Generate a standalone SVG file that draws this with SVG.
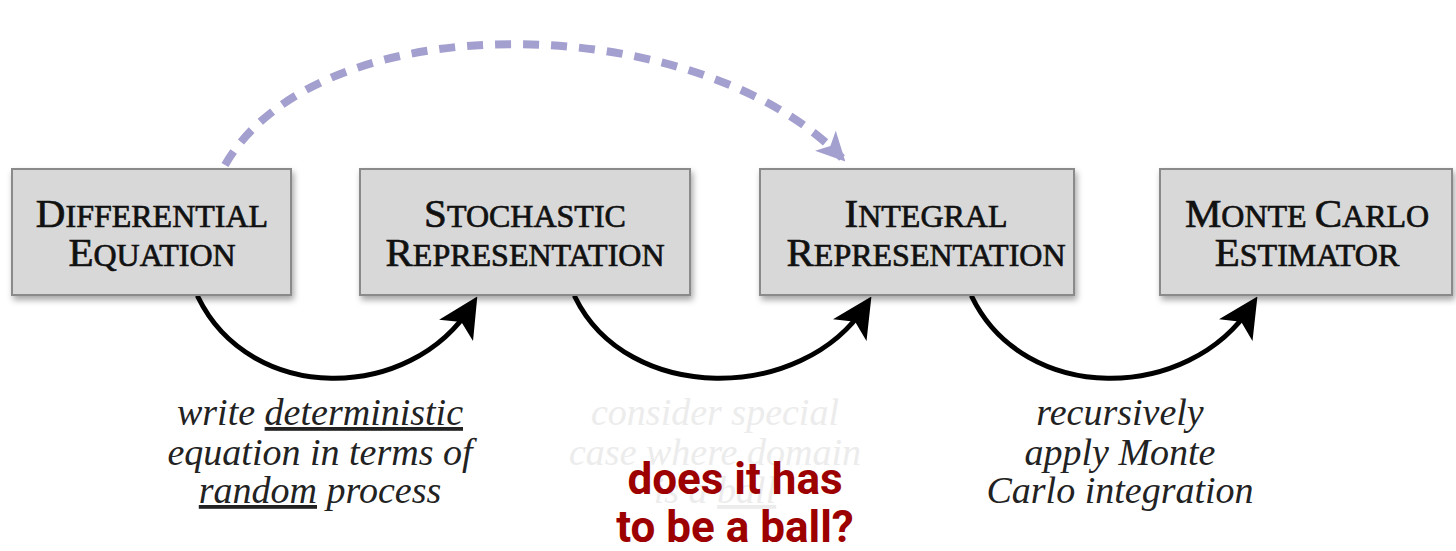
<svg xmlns="http://www.w3.org/2000/svg" width="1456" height="551" viewBox="0 0 1456 551">
<defs>
<filter id="sh" x="-10%" y="-10%" width="125%" height="130%">
<feDropShadow dx="2" dy="4" stdDeviation="3" flood-color="#000" flood-opacity="0.35"/>
</filter>
<marker id="ah" markerWidth="8" markerHeight="8" refX="6" refY="4" orient="auto" markerUnits="strokeWidth" viewBox="0 0 8 8">
<path d="M0,0 L8,4 L0,8 L2,4 Z" fill="#000"/>
</marker>
<marker id="ahd" markerWidth="3.6" markerHeight="3.6" refX="5" refY="3" orient="auto" markerUnits="strokeWidth" viewBox="0 0 6 6">
<path d="M0,0 L6,3 L0,6 L1.5,3 Z" fill="#a39fcf"/>
</marker>
</defs>
<style>
.box{fill:#d8d8d8;stroke:#8a8a8a;stroke-width:2;filter:url(#sh)}
.t{font-family:"Liberation Serif","DejaVu Serif",serif;fill:#111;stroke:#111;stroke-width:0.7;text-anchor:middle}
.b{font-size:41px}
.s{font-size:32px}
.lab{font-family:"Liberation Serif","DejaVu Serif",serif;font-style:italic;font-size:38px;fill:#222;text-anchor:middle}
.fade{fill:#ececec}
.red{font-family:Roboto,"Liberation Sans",sans-serif;font-weight:bold;font-size:44px;fill:#9c0000;text-anchor:middle}
.arc{fill:none;stroke:#000;stroke-width:5;stroke-linecap:round}
</style>
<rect width="1456" height="551" fill="#fff"/>
<g id="connectors">
<path class="arc" d="M198,297 C250,404 410,404 472,305" marker-end="url(#ah)"/>
<path class="arc" d="M575,297 C627,404 802,404 866,305" marker-end="url(#ah)"/>
<path class="arc" d="M972,297 C1024,404 1188,404 1252,305" marker-end="url(#ah)"/>
<path d="M225,165 C320,0 700,10 842,158" fill="none" stroke="#a39fcf" stroke-width="8" stroke-dasharray="16 12" marker-end="url(#ahd)"/>
</g>
<g id="n1">
<rect class="box" x="12" y="169" width="279" height="126"/>
<text class="t" x="152" y="227"><tspan class="b">D</tspan><tspan class="s">IFFERENTIAL</tspan></text>
<text class="t" x="152" y="266"><tspan class="b">E</tspan><tspan class="s">QUATION</tspan></text>
</g>
<g id="n2">
<rect class="box" x="360" y="169" width="330" height="126"/>
<text class="t" x="525" y="227"><tspan class="b">S</tspan><tspan class="s">TOCHASTIC</tspan></text>
<text class="t" x="525" y="266"><tspan class="b">R</tspan><tspan class="s">EPRESENTATION</tspan></text>
</g>
<g id="n3">
<rect class="box" x="760" y="169" width="314" height="126"/>
<text class="t" x="926" y="227"><tspan class="b">I</tspan><tspan class="s">NTEGRAL</tspan></text>
<text class="t" x="926" y="266"><tspan class="b">R</tspan><tspan class="s">EPRESENTATION</tspan></text>
</g>
<g id="n4">
<rect class="box" x="1160" y="169" width="292" height="126"/>
<text class="t" x="1307" y="227"><tspan class="b">M</tspan><tspan class="s">ONTE </tspan><tspan class="b">C</tspan><tspan class="s">ARLO</tspan></text>
<text class="t" x="1307" y="266"><tspan class="b">E</tspan><tspan class="s">STIMATOR</tspan></text>
</g>
<g id="label1">
<text class="lab" x="320" y="425">write <tspan text-decoration="underline">deterministic</tspan></text>
<text class="lab" x="320" y="465">equation in terms of</text>
<text class="lab" x="320" y="503"><tspan text-decoration="underline">random</tspan> process</text>
</g>
<g id="label2">
<text class="lab fade" x="715" y="425">consider special</text>
<text class="lab fade" x="715" y="465">case where domain</text>
<text class="lab fade" x="715" y="503">is a <tspan text-decoration="underline">ball</tspan></text>
<text class="red" x="735" y="494">does it has</text>
<text class="red" x="735" y="542">to be a ball?</text>
</g>
<g id="label3">
<text class="lab" x="1120" y="425">recursively</text>
<text class="lab" x="1120" y="465">apply Monte</text>
<text class="lab" x="1120" y="503">Carlo integration</text>
</g>
</svg>
